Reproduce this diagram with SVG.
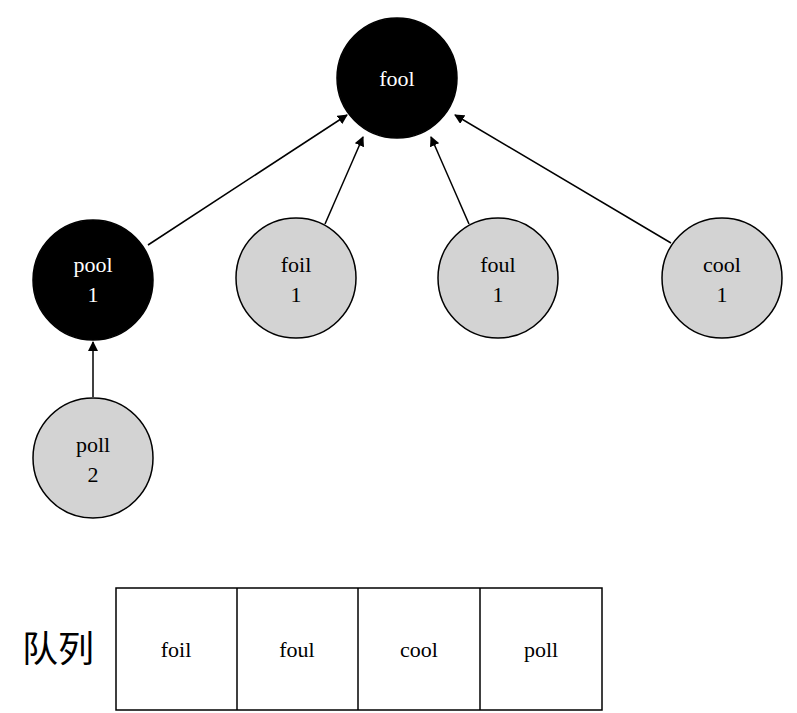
<svg xmlns="http://www.w3.org/2000/svg" width="797" height="713" viewBox="0 0 797 713">
<style>
.n{stroke:#000;stroke-width:1.5}
.g{fill:#d3d3d3}
.b{fill:#000}
text{font-family:"Liberation Serif",serif;font-size:22px;text-anchor:middle}
.w{fill:#fff}
.e{stroke:#000;stroke-width:1.5;fill:none;marker-end:url(#a)}
</style>
<defs><marker id="a" markerWidth="10" markerHeight="10" refX="9" refY="5" orient="auto" markerUnits="userSpaceOnUse"><path d="M0,0L10,5L0,10z"/></marker></defs>
<rect width="797" height="713" fill="#fff"/>
<g id="connectors">
<line class="e" x1="148" y1="245" x2="347" y2="115"/>
<line class="e" x1="325" y1="224" x2="363" y2="137"/>
<line class="e" x1="469" y1="224" x2="431" y2="137"/>
<line class="e" x1="671" y1="243" x2="455" y2="115"/>
<line class="e" x1="93" y1="397" x2="93" y2="342"/>
</g>
<g id="fool"><circle class="n b" cx="397" cy="78" r="60"/><text class="w" x="397" y="86">fool</text></g>
<g id="pool"><circle class="n b" cx="93" cy="280" r="60"/><text class="w" x="93" y="272">pool</text><text class="w" x="93" y="302">1</text></g>
<g id="foil"><circle class="n g" cx="296" cy="278" r="60"/><text x="296" y="272">foil</text><text x="296" y="302">1</text></g>
<g id="foul"><circle class="n g" cx="498" cy="278" r="60"/><text x="498" y="272">foul</text><text x="498" y="302">1</text></g>
<g id="cool"><circle class="n g" cx="722" cy="278" r="60"/><text x="722" y="272">cool</text><text x="722" y="302">1</text></g>
<g id="poll"><circle class="n g" cx="93" cy="458" r="60"/><text x="93" y="452">poll</text><text x="93" y="482">2</text></g>
<g id="queue">
<text x="58" y="662" style="font-family:'Noto Sans CJK SC',sans-serif;font-size:36px">队列</text>
<rect x="116" y="588" width="486" height="122" fill="none" stroke="#000" stroke-width="1.5"/>
<line x1="237" y1="588" x2="237" y2="710" stroke="#000" stroke-width="1.5"/>
<line x1="358" y1="588" x2="358" y2="710" stroke="#000" stroke-width="1.5"/>
<line x1="480" y1="588" x2="480" y2="710" stroke="#000" stroke-width="1.5"/>
<text x="176" y="657">foil</text><text x="297" y="657">foul</text><text x="419" y="657">cool</text><text x="541" y="657">poll</text>
</g>
</svg>
